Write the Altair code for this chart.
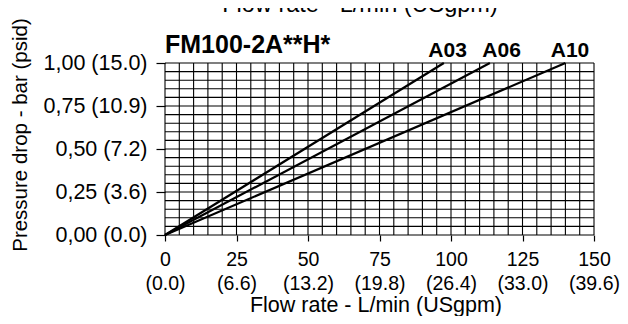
import altair as alt
import pandas as pd

# ---- data ----
series = ["A03", "A06", "A10"]
end_flow = [97.5, 113.6, 140.0]      # L/min where each curve reaches 1.00 bar
end_dp = [1.0, 1.0, 1.0]
label_flow = [98.8, 117.7, 141.6]    # label anchors (L/min)

x_ticks = [0, 25, 50, 75, 100, 125, 150]
x_tick_lpm = ["0", "25", "50", "75", "100", "125", "150"]
x_tick_gpm = ["(0.0)", "(6.6)", "(13.2)", "(19.8)", "(26.4)", "(33.0)", "(39.6)"]
y_ticks = [0.0, 0.25, 0.5, 0.75, 1.0]
y_tick_labels = ["0,00 (0.0)", "0,25 (3.6)", "0,50 (7.2)", "0,75 (10.9)", "1,00 (15.0)"]
grid_flow = list(range(0, 151, 5))
grid_dp = [round(i * 0.05, 2) for i in range(21)]

chart_title = "FM100-2A**H*"
x_title = "Flow rate - L/min (USgpm)"
y_title = "Pressure drop - bar (psid)"

FONT = "Liberation Sans"

# ---- tables ----
rows = []
for s, f, p in zip(series, end_flow, end_dp):
    rows.append({"series": s, "flow": 0.0, "dp": 0.0})
    rows.append({"series": s, "flow": f, "dp": p})
lines_df = pd.DataFrame(rows)
labels_df = pd.DataFrame({"series": series, "flow": label_flow, "dp": end_dp})
gx_df = pd.DataFrame({"flow": grid_flow})
gy_df = pd.DataFrame({"dp": grid_dp})

x_expr = " : ".join(
    f"abs(datum.value - {v}) < 1e-6 ? ['{a}', '{b}']"
    for v, a, b in zip(x_ticks, x_tick_lpm, x_tick_gpm)
) + " : ''"
y_expr = " : ".join(
    f"abs(datum.value - {v}) < 1e-6 ? '{t}'" for v, t in zip(y_ticks, y_tick_labels)
) + " : ''"

xs = alt.Scale(domain=[0, 150], nice=False, zero=True)
ys = alt.Scale(domain=[0, 1], nice=False, zero=True)

x_axis = alt.Axis(values=x_ticks, title=None, grid=False, domain=False,
                  tickSize=6, tickColor="black", tickWidth=1.2,
                  labelExpr=x_expr, labelFont=FONT, labelFontSize=19.5,
                  labelColor="black", labelPadding=9, labelLineHeight=24,
                  labelFlush=False, labelOverlap=False)
y_axis = alt.Axis(values=y_ticks, title=None, grid=False, domain=False,
                  tickSize=9, tickColor="black", tickWidth=1.2,
                  labelExpr=y_expr, labelFont=FONT, labelFontSize=21.5,
                  labelColor="black", labelPadding=9,
                  labelFlush=False, labelOverlap=False)

X = lambda f: alt.X(f, type="quantitative", scale=xs, axis=x_axis)
Y = lambda f: alt.Y(f, type="quantitative", scale=ys, axis=y_axis)

vrules = alt.Chart(gx_df).mark_rule(color="black", strokeWidth=1.1).encode(x=X("flow"))
hrules = alt.Chart(gy_df).mark_rule(color="black", strokeWidth=1.1).encode(y=Y("dp"))

lines = alt.Chart(lines_df).mark_line(color="black", strokeWidth=2.2).encode(
    x=X("flow"), y=Y("dp"), detail="series:N"
)

series_labels = alt.Chart(labels_df).mark_text(
    font=FONT, fontSize=21, fontWeight="bold", color="black",
    align="center", baseline="alphabetic", dy=-6
).encode(x=X("flow"), y=Y("dp"), text="series:N")

title_txt = alt.Chart(pd.DataFrame({"t": [chart_title]})).mark_text(
    font=FONT, fontSize=25, fontWeight="bold", color="black",
    align="left", baseline="alphabetic"
).encode(x=alt.value(0), y=alt.value(-10), text="t:N")

top_title = alt.Chart(pd.DataFrame({"t": [x_title]})).mark_text(
    font=FONT, fontSize=23.5, color="black", align="center", baseline="alphabetic"
).encode(x=alt.value(195), y=alt.value(-51), text="t:N")

bottom_title = alt.Chart(pd.DataFrame({"t": [x_title]})).mark_text(
    font=FONT, fontSize=21.5, color="black", align="center", baseline="alphabetic"
).encode(x=alt.value(211), y=alt.value(249), text="t:N")

left_title = alt.Chart(pd.DataFrame({"t": [y_title]})).mark_text(
    font=FONT, fontSize=20.5, color="black", align="center", baseline="middle", angle=270
).encode(x=alt.value(-144), y=alt.value(72), text="t:N")

chart = alt.layer(
    vrules, hrules, lines, series_labels, title_txt, top_title, bottom_title, left_title
).properties(
    width=429, height=172,
    autosize="none",
    padding={"left": 157, "top": 55, "right": 26, "bottom": 81},
    background="white",
).configure_view(stroke=None)

chart.save("out.html", embed_options={"renderer": "svg", "actions": False})
